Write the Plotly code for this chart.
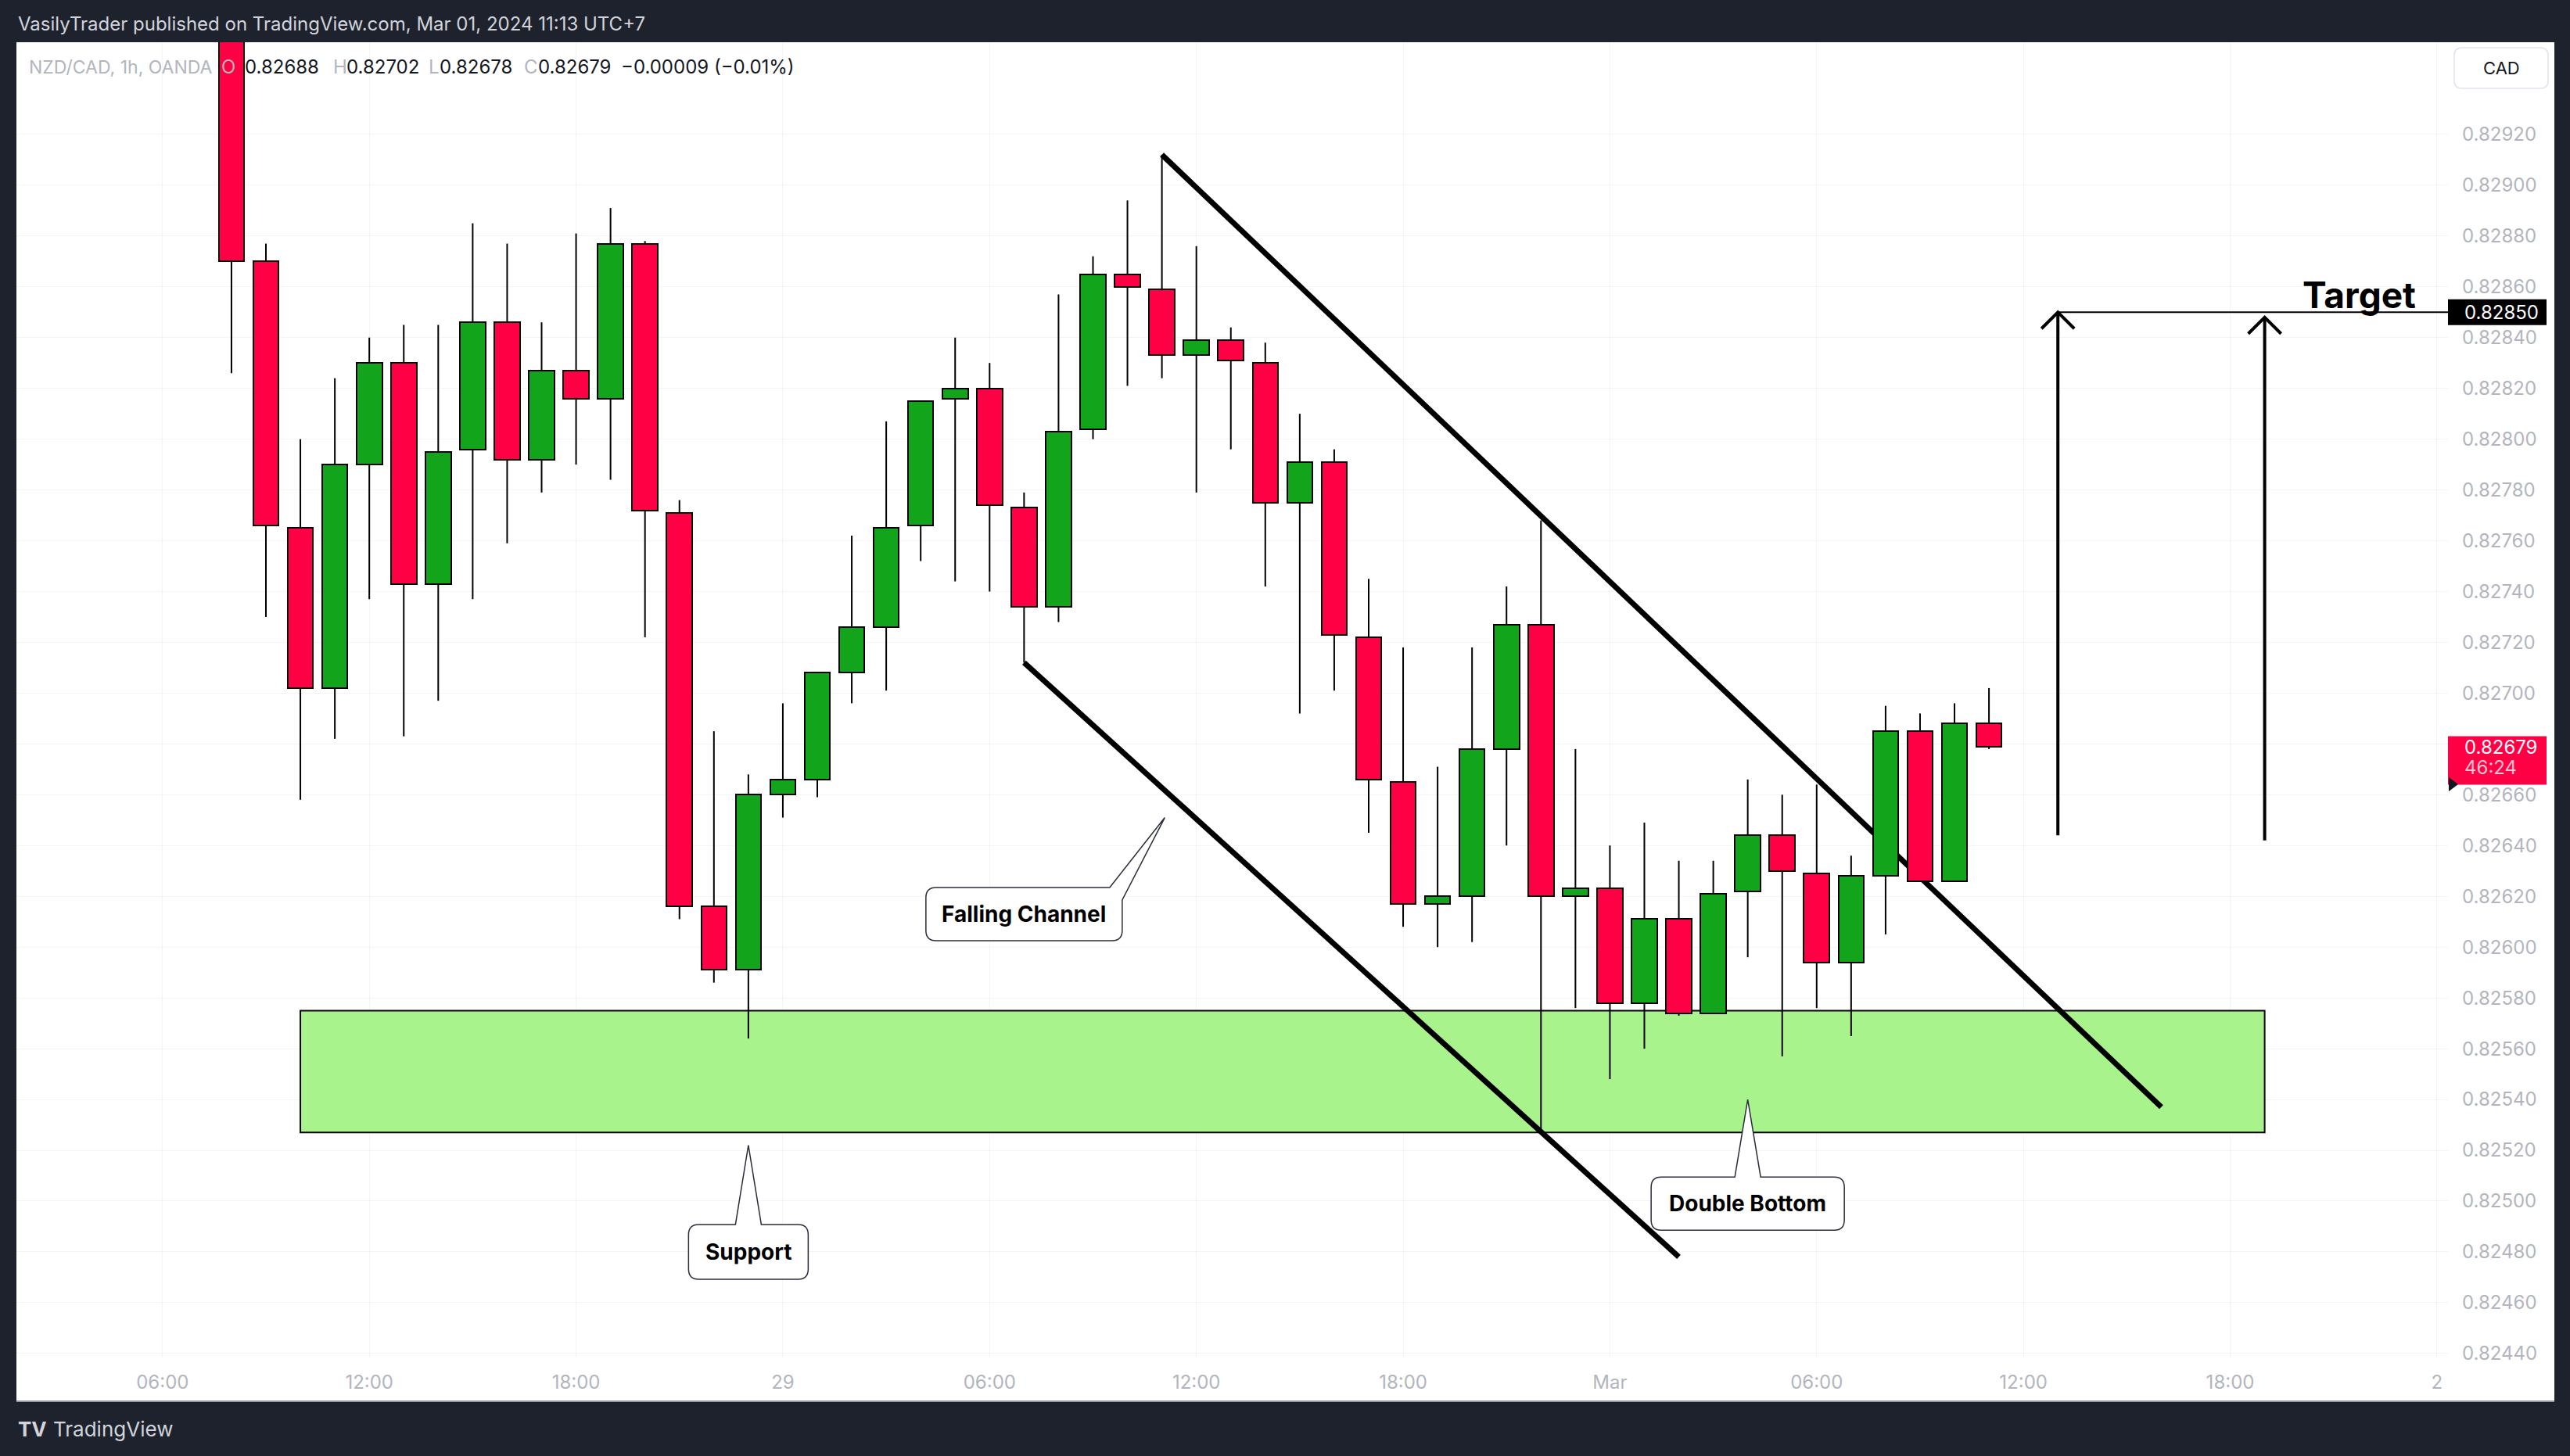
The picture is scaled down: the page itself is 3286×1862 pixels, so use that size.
import pandas as pd
import plotly.graph_objects as go

# ---------------- data ----------------
times = pd.date_range("2024-02-28 08:00", periods=52, freq="h")

opens = [0.82975, 0.82870, 0.82765, 0.82702, 0.82790, 0.82830, 0.82743, 0.82796,
         0.82846, 0.82792, 0.82827, 0.82816, 0.82877, 0.82771, 0.82616, 0.82591,
         0.82660, 0.82666, 0.82708, 0.82726, 0.82766, 0.82816, 0.82820, 0.82773,
         0.82734, 0.82804, 0.82865, 0.82859, 0.82833, 0.82839, 0.82830, 0.82775,
         0.82791, 0.82722, 0.82665, 0.82617, 0.82620, 0.82678, 0.82727, 0.82620,
         0.82623, 0.82578, 0.82611, 0.82574, 0.82622, 0.82644, 0.82629, 0.82594,
         0.82628, 0.82685, 0.82626, 0.82688]
highs = [0.82990, 0.82877, 0.82800, 0.82824, 0.82840, 0.82845, 0.82845, 0.82885,
         0.82877, 0.82846, 0.82881, 0.82891, 0.82878, 0.82776, 0.82685, 0.82668,
         0.82696, 0.82708, 0.82762, 0.82807, 0.82815, 0.82840, 0.82830, 0.82779,
         0.82857, 0.82872, 0.82894, 0.82912, 0.82876, 0.82844, 0.82838, 0.82810,
         0.82796, 0.82745, 0.82718, 0.82671, 0.82718, 0.82742, 0.82768, 0.82678,
         0.82640, 0.82649, 0.82634, 0.82634, 0.82666, 0.82660, 0.82664, 0.82636,
         0.82695, 0.82692, 0.82696, 0.82702]
lows = [0.82826, 0.82730, 0.82658, 0.82682, 0.82737, 0.82683, 0.82697, 0.82737,
        0.82759, 0.82779, 0.82790, 0.82784, 0.82722, 0.82611, 0.82586, 0.82564,
        0.82651, 0.82659, 0.82696, 0.82701, 0.82752, 0.82744, 0.82740, 0.82712,
        0.82728, 0.82800, 0.82821, 0.82824, 0.82779, 0.82796, 0.82742, 0.82692,
        0.82701, 0.82645, 0.82608, 0.82600, 0.82602, 0.82640, 0.82528, 0.82576,
        0.82548, 0.82560, 0.82573, 0.82574, 0.82596, 0.82557, 0.82576, 0.82565,
        0.82605, 0.82626, 0.82626, 0.82678]
closes = [0.82870, 0.82766, 0.82702, 0.82790, 0.82830, 0.82743, 0.82795, 0.82846,
          0.82792, 0.82827, 0.82816, 0.82877, 0.82772, 0.82616, 0.82591, 0.82660,
          0.82666, 0.82708, 0.82726, 0.82765, 0.82815, 0.82820, 0.82774, 0.82734,
          0.82803, 0.82865, 0.82860, 0.82833, 0.82839, 0.82831, 0.82775, 0.82791,
          0.82723, 0.82666, 0.82617, 0.82620, 0.82678, 0.82727, 0.82620, 0.82623,
          0.82578, 0.82611, 0.82574, 0.82621, 0.82644, 0.82630, 0.82594, 0.82628,
          0.82685, 0.82626, 0.82688, 0.82679]

price_ticks = [0.82440, 0.82460, 0.82480, 0.82500, 0.82520, 0.82540, 0.82560, 0.82580,
               0.82600, 0.82620, 0.82640, 0.82660, 0.82680, 0.82700, 0.82720, 0.82740,
               0.82760, 0.82780, 0.82800, 0.82820, 0.82840, 0.82860, 0.82880, 0.82900,
               0.82920]
time_ticks = ["2024-02-28 06:00", "2024-02-28 12:00", "2024-02-28 18:00", "2024-02-29 00:00",
              "2024-02-29 06:00", "2024-02-29 12:00", "2024-02-29 18:00", "2024-03-01 00:00",
              "2024-03-01 06:00", "2024-03-01 12:00", "2024-03-01 18:00", "2024-03-02 00:00"]
time_tick_labels = ["06:00", "12:00", "18:00", "29", "06:00", "12:00", "18:00", "Mar",
                    "06:00", "12:00", "18:00", "2"]

# drawings (time, price)
support_zone = ("2024-02-28 10:00", "2024-03-01 19:00", 0.82527, 0.82575)
channel_upper = [("2024-02-29 11:00", 0.82912), ("2024-03-01 16:00", 0.82537)]
channel_lower = [("2024-02-29 07:00", 0.82712), ("2024-03-01 02:00", 0.82478)]
target_price = 0.82850
target_arrows = [("2024-03-01 13:00", 0.82644, 0.82850), ("2024-03-01 19:00", 0.82642, 0.82848)]
target_label_time = "2024-03-01 21:45"
last_price = 0.82679
callouts = [
    # text, box-centre time, box-centre price, tip time, tip price
    ("Falling Channel", "2024-02-29 07:00", 0.82613, "2024-02-29 11:05", 0.82651),
    ("Support", "2024-02-28 23:00", 0.82480, "2024-02-28 23:00", 0.82522),
    ("Double Bottom", "2024-03-01 04:00", 0.82499, "2024-03-01 04:00", 0.82540),
]

# ---------------- geometry / style ----------------
W, H = 3286, 1862
PL, PR, PT, PB = 21, 3130, 54, 1737
BG_DARK = "#1e222d"
GREEN = "#12a41a"
RED = "#ff0044"
ZONE = "#a8f38b"
AXIS_TXT = "#b2b5be"
FONT = "Inter, Roboto, sans-serif"

t0 = pd.Timestamp("2024-02-28 00:00")


def hrs(t):
    return (pd.Timestamp(t) - t0) / pd.Timedelta(hours=1)


x_range = [1.76, 72.32]
y_range = [0.824381, 0.829563]
px_h = (PR - PL) / (x_range[1] - x_range[0])
px_p = (PB - PT) / (y_range[1] - y_range[0])


def pxX(px):
    return (px - PL) / (PR - PL)


def pxY(py):
    return (PB - py) / (PB - PT)


def price_py(p):
    return PB - (p - y_range[0]) * px_p


x = [hrs(t) for t in times]

fig = go.Figure()

# candle bodies
body_base = [min(o, c) for o, c in zip(opens, closes)]
body_len = [abs(c - o) for o, c in zip(opens, closes)]
body_col = [GREEN if c >= o else RED for o, c in zip(opens, closes)]
fig.add_trace(go.Bar(x=x, y=body_len, base=body_base, width=0.74,
                     marker=dict(color=body_col, line=dict(color="black", width=2)),
                     hoverinfo="skip", showlegend=False))

# wicks
wx, wy = [], []
for xi, o, hi, lo, c in zip(x, opens, highs, lows, closes):
    top, bot = max(o, c), min(o, c)
    if hi > top:
        wx += [xi, xi, None]
        wy += [top, hi, None]
    if lo < bot:
        wx += [xi, xi, None]
        wy += [lo, bot, None]
fig.add_trace(go.Scatter(x=wx, y=wy, mode="lines", line=dict(color="black", width=2),
                         hoverinfo="skip", showlegend=False))

shapes = []
# white chart panel (incl. axis areas)
shapes.append(dict(type="rect", xref="paper", yref="paper", x0=pxX(PL), x1=pxX(3266),
                   y0=pxY(1791), y1=pxY(PT), fillcolor="white", line=dict(width=0), layer="below"))
shapes.append(dict(type="line", xref="paper", yref="paper", x0=pxX(PL), x1=pxX(3266),
                   y0=pxY(1792), y1=pxY(1792), line=dict(color="#9598a1", width=2), layer="above"))

# support zone
shapes.append(dict(type="rect", xref="x", yref="y", x0=hrs(support_zone[0]), x1=hrs(support_zone[1]),
                   y0=support_zone[2], y1=support_zone[3], fillcolor=ZONE,
                   line=dict(color="black", width=2), layer="between"))
# channel
for (ta, pa), (tb, pb) in [channel_upper, channel_lower]:
    shapes.append(dict(type="line", xref="x", yref="y", x0=hrs(ta), y0=pa, x1=hrs(tb), y1=pb,
                       line=dict(color="black", width=7), layer="between"))
# target line
shapes.append(dict(type="line", xref="x", yref="y", x0=hrs(target_arrows[0][0]), x1=x_range[1],
                   y0=target_price, y1=target_price, line=dict(color="black", width=2), layer="between"))
# arrows
ah_dx = 21 / px_h
ah_dy = 21 / px_p
for t, p0, p1 in target_arrows:
    h = hrs(t)
    shapes.append(dict(type="line", xref="x", yref="y", x0=h, x1=h, y0=p0, y1=p1,
                       line=dict(color="black", width=4), layer="between"))
    shapes.append(dict(type="path", xref="x", yref="y",
                       path=f"M{h - ah_dx:.5f},{p1 - ah_dy:.7f} L{h:.5f},{p1:.7f} L{h + ah_dx:.5f},{p1 - ah_dy:.7f}",
                       line=dict(color="black", width=4), layer="between"))


# callouts
def callout_path(cx, cp, a, b, r, tail, tip_h, tip_p):
    def P(dx, dy):
        return f"{cx + dx / px_h:.5f},{cp - dy / px_p:.7f}"
    tip = f"{tip_h:.5f},{tip_p:.7f}"
    if tail[0] == "top":
        t1, t2 = tail[1], tail[2]
        d = [f"M{P(-a + r, -b)}", f"L{P(t1, -b)}", f"L{tip}", f"L{P(t2, -b)}",
             f"L{P(a - r, -b)}", f"Q{P(a, -b)} {P(a, -b + r)}"]
    else:
        t1, s = tail[1], tail[2]
        d = [f"M{P(-a + r, -b)}", f"L{P(t1, -b)}", f"L{tip}", f"L{P(a, s)}"]
    d += [f"L{P(a, b - r)}", f"Q{P(a, b)} {P(a - r, b)}", f"L{P(-a + r, b)}",
          f"Q{P(-a, b)} {P(-a, b - r)}", f"L{P(-a, -b + r)}", f"Q{P(-a, -b)} {P(-a + r, -b)}", "Z"]
    return " ".join(d)


callout_geom = {
    "Falling Channel": (125.5, 34, ("corner", 109.5, -18)),
    "Support": (76.5, 35, ("top", -16.5, 16.5)),
    "Double Bottom": (123.5, 34, ("top", -16.5, 16.5)),
}
annotations = []
for text, ct, cp, tt, tp in callouts:
    a, b, tail = callout_geom[text]
    shapes.append(dict(type="path", xref="x", yref="y",
                       path=callout_path(hrs(ct), cp, a, b, 13, tail, hrs(tt), tp),
                       fillcolor="white", line=dict(color="#2a2e39", width=1.5), layer="above"))
    annotations.append(dict(x=hrs(ct), y=cp, xref="x", yref="y", text=f"<b>{text}</b>",
                            xanchor="center", yanchor="middle",
                            showarrow=False, font=dict(family=FONT, size=28, color="black")))

# Target text
annotations.append(dict(x=hrs(target_label_time), y=target_price, xref="x", yref="y",
                        text="<b>Target</b>", showarrow=False, xanchor="center", yanchor="bottom",
                        yshift=-8, font=dict(family=FONT, size=46, color="black")))


def paper_text(txt, px, py, size, color, xanchor="left"):
    return dict(x=pxX(px), y=pxY(py), xref="paper", yref="paper", xanchor=xanchor,
                yanchor="middle", text=txt, showarrow=False,
                font=dict(family=FONT, size=size, color=color))


# price-axis labels
ty = price_py(target_price)
shapes.append(dict(type="rect", xref="paper", yref="paper", x0=pxX(3130), x1=pxX(3256),
                   y0=pxY(ty + 16.5), y1=pxY(ty - 16.5), fillcolor="black", line=dict(width=0), layer="above"))
annotations.append(paper_text(f"{target_price:.5f}", 3149, ty, 24, "white"))
ly = price_py(last_price)
shapes.append(dict(type="rect", xref="paper", yref="paper", x0=pxX(3130), x1=pxX(3256),
                   y0=pxY(ly + 49), y1=pxY(ly - 13), fillcolor=RED, line=dict(width=0), layer="above"))
annotations.append(paper_text(f"{last_price:.5f}", 3149, ly + 1, 24, "white"))
annotations.append(paper_text("46:24", 3149, ly + 27, 24, "#ffc2d2"))
# small dark marker on axis
shapes.append(dict(type="path", xref="paper", yref="paper",
                   path=f"M{pxX(3131)},{pxY(994)} L{pxX(3143)},{pxY(1003)} L{pxX(3131)},{pxY(1012)} Z",
                   fillcolor="#131722", line=dict(width=0), layer="above"))


# CAD button
def rrect(x0, y0, x1, y1, r):
    X = lambda v: f"{pxX(v):.6f}"
    Y = lambda v: f"{pxY(v):.6f}"
    return (f"M{X(x0 + r)},{Y(y0)} L{X(x1 - r)},{Y(y0)} Q{X(x1)},{Y(y0)} {X(x1)},{Y(y0 + r)} "
            f"L{X(x1)},{Y(y1 - r)} Q{X(x1)},{Y(y1)} {X(x1 - r)},{Y(y1)} L{X(x0 + r)},{Y(y1)} "
            f"Q{X(x0)},{Y(y1)} {X(x0)},{Y(y1 - r)} L{X(x0)},{Y(y0 + r)} Q{X(x0)},{Y(y0)} {X(x0 + r)},{Y(y0)} Z")


shapes.append(dict(type="path", xref="paper", yref="paper", path=rrect(3138, 61, 3258, 113, 10),
                   fillcolor="white", line=dict(color="#e0e3eb", width=1.5), layer="above"))
annotations.append(paper_text("CAD", 3198, 87, 22, "#131722", xanchor="center"))

# top publisher line
annotations.append(paper_text("VasilyTrader published on TradingView.com, Mar 01, 2024 11:13 UTC+7",
                              21, 30, 24, "#d1d4dc"))
# legend line
legend_parts = [("NZD/CAD, 1h, OANDA", 35, AXIS_TXT, 23), ("O", 281, AXIS_TXT, 24),
                ("0.82688", 311, "#131722", 24), ("H", 424, AXIS_TXT, 24),
                ("0.82702", 441, "#131722", 24), ("L", 546, AXIS_TXT, 24),
                ("0.82678", 560, "#131722", 24), ("C", 668, AXIS_TXT, 24),
                ("0.82679", 686, "#131722", 24), ("\u22120.00009 (\u22120.01%)", 792, "#131722", 24)]
for txt, px, col, sz in legend_parts:
    annotations.append(paper_text(txt, px, 86, sz, col))
# bottom TradingView logo
annotations.append(paper_text("<b>TV</b>", 21, 1827, 26, "#d1d4dc"))
annotations.append(paper_text("TradingView", 66, 1827, 26, "#d1d4dc"))

fig.update_layout(
    width=W, height=H, autosize=False,
    margin=dict(l=PL, r=W - PR, t=PT, b=H - PB, pad=0),
    paper_bgcolor=BG_DARK, plot_bgcolor="white",
    shapes=shapes, annotations=annotations, showlegend=False, hovermode=False,
    bargap=0,
    xaxis=dict(range=x_range, tickmode="array", tickvals=[hrs(t) for t in time_ticks],
               ticktext=time_tick_labels, showgrid=True, gridcolor="rgba(42,46,57,0.05)",
               zeroline=False, showline=False, ticks="", ticklabelstandoff=14,
               tickfont=dict(family=FONT, size=24, color=AXIS_TXT), fixedrange=True),
    yaxis=dict(range=y_range, side="right", tickmode="array", tickvals=price_ticks,
               ticktext=[f"{v:.5f}" for v in price_ticks], showgrid=True,
               gridcolor="rgba(42,46,57,0.05)", zeroline=False, showline=False, ticks="",
               ticklabelstandoff=17, tickfont=dict(family=FONT, size=24, color=AXIS_TXT),
               fixedrange=True),
)

fig.write_html("out.html", config={"displayModeBar": False},
               post_script="document.body.style.margin='0';document.body.style.overflow='hidden';")
